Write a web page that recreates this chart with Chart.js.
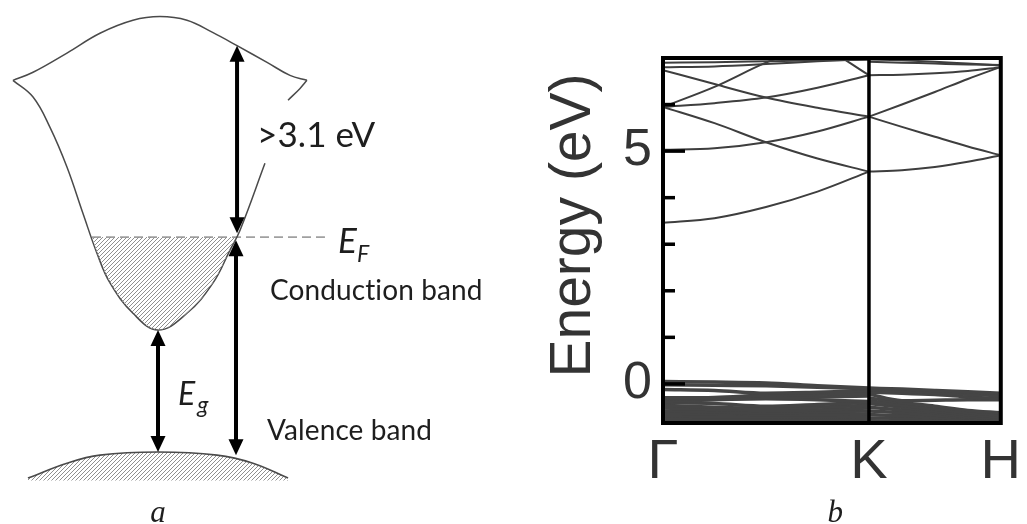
<!DOCTYPE html>
<html><head><meta charset="utf-8">
<script src="https://cdn.jsdelivr.net/npm/chart.js@4.4.0/dist/chart.umd.min.js"></script>
<style>
html,body{margin:0;padding:0;background:#fff;width:1027px;height:524px;overflow:hidden}
#left{position:absolute;left:0;top:0}
#right{position:absolute;left:530px;top:0}
</style></head><body>
<canvas id="left" width="530" height="524"></canvas>
<canvas id="right" width="497" height="524"></canvas>
<script>
// ================= Panel a : schematic (k, E in eV) =================
const cbTopK = [-0.967,-0.833,-0.607,-0.387,-0.167,0.013,0.193,0.367,0.527,0.727,0.88,0.993];
const cbTopE = [6.00,6.13,6.44,6.76,6.97,7.03,6.97,6.77,6.56,6.29,6.08,6.00];
const cbLowK = [-0.967,-0.833,-0.72,-0.607,-0.50,-0.407,-0.32,-0.167,0,0.193,0.367,0.48,0.547,0.713];
const cbLowE = [6.00,5.73,5.24,4.60,3.85,3.21,2.73,2.24,1.97,2.24,2.73,3.26,3.58,4.66];
const cbCuspK = [0.867,0.947,0.993];
const cbCuspE = [5.68,5.87,6.00];
const filledK = [-0.44,-0.407,-0.32,-0.167,0,0.193,0.367,0.48,0.523];
const filledE = [3.47,3.21,2.73,2.24,1.97,2.24,2.73,3.26,3.47];
const vbK = [-0.867,-0.607,-0.387,0,0.393,0.633,0.867];
const vbE = [-0.42,-0.18,-0.05,0,-0.05,-0.18,-0.42];
const fermiE = 3.47;
const fermiK = [-0.44, 1.113];
const vbHatchBottom = -0.46;
const arrowK = [0.527, 0.52, 0.0];
const arrowFrom = [3.53, 3.42, 1.97];
const arrowTo = [6.56, -0.05, 0.0];

// ================= Panel b : band structure =================
const kGK = [0, 0.25, 0.5, 0.75, 1.0];
const kKH = [1.0, 1.16, 1.32, 1.48, 1.64];
const symK = [0, 1.0, 1.64];
const symLabels = ['Γ', 'K', 'H'];
const yTickVals = [0, 5];
const yMinorVals = [1, 2, 3, 4, 6];
const cbGK = [
  [3.46, 3.56, 3.80, 4.13, 4.56],
  [5.03, 5.06, 5.19, 5.42, 5.74],
  [5.95, 5.60, 5.19, 4.84, 4.56],
  [5.95, 6.03, 6.15, 6.36, 6.63],
  [6.74, 6.44, 6.15, 5.93, 5.74],
  [5.95, 6.38, 6.90, 7.30, 7.60],
  [7.90, 7.80, 7.60, 7.30, 6.63],
  [6.90, 6.91, 6.93, 6.95, 6.96],
  [6.80, 6.82, 6.87, 6.93, 6.98]
];
const cbKH = [
  [4.56, 4.59, 4.66, 4.77, 4.91],
  [5.74, 5.52, 5.31, 5.10, 4.91],
  [5.74, 6.00, 6.27, 6.55, 6.81],
  [6.63, 6.64, 6.67, 6.72, 6.80],
  [6.92, 6.90, 6.88, 6.86, 6.85],
  [6.97, 6.95, 6.92, 6.88, 6.84]
];
const vbGK = [
  [0.05, 0.04, 0.02, -0.04, -0.09],
  [-0.02, -0.03, -0.04, -0.07, -0.11],
  [-0.12, -0.14, -0.20, -0.18, -0.15],
  [-0.30, -0.29, -0.24, -0.22, -0.20],
  [-0.33, -0.32, -0.30, -0.28, -0.26],
  [-0.38, -0.34, -0.32, -0.34, -0.38],
  [-0.40, -0.42, -0.48, -0.44, -0.40],
  [-0.46, -0.50, -0.52, -0.50, -0.46],
  [-0.52, -0.55, -0.57, -0.56, -0.52],
  [-0.58, -0.60, -0.62, -0.60, -0.58],
  [-0.63, -0.64, -0.66, -0.66, -0.64],
  [-0.68, -0.70, -0.70, -0.71, -0.70],
  [-0.74, -0.74, -0.75, -0.76, -0.75],
  [-0.79, -0.79, -0.80, -0.80, -0.80]
];
const vbKH = [
  [-0.09, -0.11, -0.14, -0.17, -0.20],
  [-0.12, -0.15, -0.19, -0.22, -0.26],
  [-0.18, -0.20, -0.23, -0.28, -0.32],
  [-0.22, -0.36, -0.35, -0.34, -0.34],
  [-0.30, -0.40, -0.48, -0.57, -0.62],
  [-0.36, -0.46, -0.54, -0.62, -0.67],
  [-0.42, -0.50, -0.58, -0.66, -0.71],
  [-0.50, -0.56, -0.62, -0.70, -0.75],
  [-0.58, -0.62, -0.67, -0.73, -0.78],
  [-0.66, -0.68, -0.72, -0.77, -0.81],
  [-0.73, -0.74, -0.77, -0.80, -0.83],
  [-0.79, -0.80, -0.81, -0.82, -0.84]
];

// ---------- helpers ----------
const pts = (ks, es) => ks.map((k, i) => ({x: k, y: es[i]}));
function hatchPattern(ctx, color, step) {
  const c = document.createElement('canvas');
  c.width = step; c.height = step;
  const g = c.getContext('2d');
  g.strokeStyle = color; g.lineWidth = 1;
  g.beginPath();
  g.moveTo(0, step); g.lineTo(step, 0);
  g.moveTo(-step / 2, step / 2); g.lineTo(step / 2, -step / 2);
  g.moveTo(step / 2, step * 1.5); g.lineTo(step * 1.5, step / 2);
  g.stroke();
  return ctx.createPattern(c, 'repeat');
}

// ---------- Panel a ----------
const lctx = document.getElementById('left').getContext('2d');
const hatch = hatchPattern(lctx, '#8f8f8f', 4);
const lineCol = '#4a4a4a';

const annotationsA = [
  {t: '>3.1 eV', k: 0.66, e: 4.92, f: '35px Lato', a: 'left'},
  {t: 'E', k: 1.20, e: 3.21, f: 'italic 35px Lato', a: 'left'},
  {t: 'F', k: 1.327, e: 3.06, f: 'italic 23px Lato', a: 'left'},
  {t: 'Conduction band', k: 0.747, e: 2.45, f: '28px Lato', a: 'left'},
  {t: 'Valence band', k: 0.727, e: 0.19, f: '28px Lato', a: 'left'},
  {t: 'E', k: 0.133, e: 0.76, f: 'italic 32px Lato', a: 'left'},
  {t: 'g', k: 0.262, e: 0.63, f: 'italic 23px Lato', a: 'left'},
  {t: 'a', k: 0.0, e: -1.13, f: 'italic 31px "Liberation Serif"', a: 'center'}
];

const panelAPlugin = {
  id: 'panelA',
  afterDatasetsDraw(chart) {
    const {ctx, scales: {x, y}} = chart;
    ctx.save();
    ctx.fillStyle = '#000'; ctx.strokeStyle = '#000';
    const headL = 16, headW = 7.5;
    arrowK.forEach((k, i) => {
      const px = x.getPixelForValue(k);
      const y1 = y.getPixelForValue(arrowFrom[i]);
      const y2 = y.getPixelForValue(arrowTo[i]);
      const top = Math.min(y1, y2), bot = Math.max(y1, y2);
      ctx.lineWidth = 4;
      ctx.beginPath(); ctx.moveTo(px, top + headL - 2); ctx.lineTo(px, bot - headL + 2); ctx.stroke();
      ctx.beginPath(); ctx.moveTo(px, top); ctx.lineTo(px - headW, top + headL); ctx.lineTo(px + headW, top + headL); ctx.closePath(); ctx.fill();
      ctx.beginPath(); ctx.moveTo(px, bot); ctx.lineTo(px - headW, bot - headL); ctx.lineTo(px + headW, bot - headL); ctx.closePath(); ctx.fill();
    });
    ctx.fillStyle = '#1e1e1e';
    ctx.textBaseline = 'alphabetic';
    if ('letterSpacing' in ctx) ctx.letterSpacing = '0.1px';
    annotationsA.forEach(l => {
      ctx.font = l.f; ctx.textAlign = l.a;
      ctx.fillText(l.t, x.getPixelForValue(l.k), y.getPixelForValue(l.e));
    });
    ctx.restore();
  }
};

new Chart(lctx, {
  type: 'line',
  data: {
    datasets: [
      {data: pts(filledK, filledE), borderWidth: 0, borderColor: 'rgba(0,0,0,0)', backgroundColor: hatch, fill: {value: fermiE}, pointRadius: 0, tension: 0.4},
      {data: pts(vbK, vbE), borderWidth: 1.6, borderColor: lineCol, backgroundColor: hatch, fill: {value: vbHatchBottom}, pointRadius: 0, tension: 0.4},
      {data: pts(cbTopK, cbTopE), borderWidth: 1.5, borderColor: lineCol, fill: false, pointRadius: 0, tension: 0.4},
      {data: pts(cbLowK, cbLowE), borderWidth: 1.5, borderColor: lineCol, fill: false, pointRadius: 0, tension: 0.4},
      {data: pts(cbCuspK, cbCuspE), borderWidth: 1.5, borderColor: lineCol, fill: false, pointRadius: 0, tension: 0.4},
      {data: pts(fermiK, [fermiE, fermiE]), borderWidth: 1.6, borderColor: '#a0a0a0', borderDash: [9, 5], fill: false, pointRadius: 0}
    ]
  },
  options: {
    responsive: false, animation: false, events: [],
    layout: {autoPadding: false, padding: {left: 8, right: 12, top: 6, bottom: 10}},
    plugins: {legend: {display: false}, tooltip: {enabled: false}},
    scales: {
      x: {type: 'linear', display: false, min: -1.0, max: 2.4},
      y: {type: 'linear', display: false, min: -1.0, max: 7.2}
    }
  },
  plugins: [panelAPlugin]
});

// ---------- Panel b ----------
const rctx = document.getElementById('right').getContext('2d');
const bandCol = '#3e3e3e';
const textCol = '#333';
const datasetsB = [];
function addBands(ks, bands, w, col) {
  bands.forEach(b => datasetsB.push({data: pts(ks, b), borderColor: col, borderWidth: w, pointRadius: 0, cubicInterpolationMode: 'monotone', fill: false}));
}
addBands(kGK, cbGK, 2, bandCol);
addBands(kKH, cbKH, 2, bandCol);
addBands(kGK, vbGK, 3.5, '#454545');
addBands(kKH, vbKH, 3.5, '#454545');

const panelBPlugin = {
  id: 'panelB',
  afterDatasetsDraw(chart) {
    const {ctx, chartArea: ca, scales: {x, y}} = chart;
    ctx.save();
    ctx.strokeStyle = '#000';
    ctx.lineWidth = 3.5;
    const kx = x.getPixelForValue(symK[1]);
    ctx.beginPath(); ctx.moveTo(kx, ca.top); ctx.lineTo(kx, ca.bottom); ctx.stroke();
    ctx.lineWidth = 4;
    ctx.strokeRect(ca.left, ca.top, ca.right - ca.left, ca.bottom - ca.top);
    ctx.lineWidth = 3.5;
    yTickVals.forEach(v => { const py = y.getPixelForValue(v); ctx.beginPath(); ctx.moveTo(ca.left, py); ctx.lineTo(ca.left + 22, py); ctx.stroke(); });
    yMinorVals.forEach(v => { const py = y.getPixelForValue(v); ctx.beginPath(); ctx.moveTo(ca.left, py); ctx.lineTo(ca.left + 12, py); ctx.stroke(); });
    // axis title
    ctx.fillStyle = textCol;
    ctx.font = '57px "Liberation Sans"';
    ctx.textAlign = 'center'; ctx.textBaseline = 'alphabetic';
    ctx.translate(ca.left - 73, (ca.top + ca.bottom) / 2 - 15);
    ctx.rotate(-Math.PI / 2);
    ctx.fillText('Energy (eV)', 0, 0);
    ctx.restore();
    ctx.save();
    ctx.fillStyle = '#1e1e1e';
    ctx.font = 'italic 31px "Liberation Serif"';
    ctx.textAlign = 'center'; ctx.textBaseline = 'alphabetic';
    ctx.fillText('b', x.getPixelForValue(0.836), chart.height - 2);
    ctx.restore();
  }
};

new Chart(rctx, {
  type: 'line',
  data: {datasets: datasetsB},
  options: {
    responsive: false, animation: false, events: [],
    layout: {autoPadding: false, padding: {left: 0, right: 3, top: 58, bottom: 0}},
    plugins: {legend: {display: false}, tooltip: {enabled: false}},
    scales: {
      x: {
        type: 'linear', min: 0, max: symK[2],
        afterBuildTicks: s => { s.ticks = symK.map(v => ({value: v})); },
        afterFit: s => { s.height = 101; },
        ticks: {callback: (v, i) => symLabels[i], autoSkip: false, maxRotation: 0, padding: 6, color: textCol, font: {family: 'Liberation Sans', size: 56}},
        grid: {display: false, drawTicks: false}, border: {display: false}
      },
      y: {
        type: 'linear', min: -0.84, max: 7.0,
        afterBuildTicks: s => { s.ticks = yTickVals.map(v => ({value: v})); },
        afterFit: s => { s.width = 133; },
        ticks: {callback: v => String(v), padding: 11, color: textCol, font: {family: 'Liberation Sans', size: 52}},
        grid: {display: false, drawTicks: false}, border: {display: false}
      }
    }
  },
  plugins: [panelBPlugin]
});
</script>
</body></html>
